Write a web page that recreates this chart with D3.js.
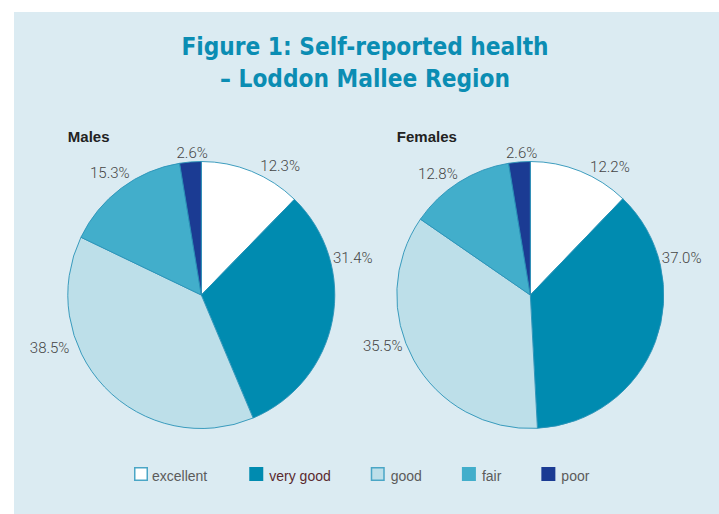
<!DOCTYPE html>
<head>
<meta charset="utf-8">
<title>Self-reported health - Loddon Mallee Region</title>
<script src="https://d3js.org/d3.v7.min.js"></script>
<style>
  body { margin: 0; background: #fff; }
  svg { display: block; }
</style>
</head>
<body>
<div id="container"></div>
<script>
//---------------------------- DATA -----------------------------//
const categories = ["excellent", "very good", "good", "fair", "poor"];
const males   = [12.3, 31.4, 38.5, 15.3, 2.6];
const females = [12.2, 37.0, 35.5, 12.8, 2.6];
const groups  = ["Males", "Females"];
const titleLines = ["Figure 1: Self-reported health", "\u2013 Loddon Mallee Region"];

//--------------------------- LAYOUT ----------------------------//
const W = 719, H = 514;
const colours = ["#ffffff", "#008bb0", "#bddfe9", "#42aecb", "#1b3b93"];
const r = 133.5, cy = 295;
// the original places some labels away from the slice middle (degrees)
const labelNudge = [[9.3, -24.4, 24.5, 0, 1], [9.8, -34.3, 10.3, -4.9, 1.2]];

const svg = d3.select("#container").append("svg")
    .attr("width", W)
    .attr("height", H);

svg.append("rect")
    .attr("x", 14).attr("y", 12)
    .attr("width", W - 14).attr("height", H - 12)
    .attr("fill", "#dbebf2");

// title
svg.selectAll(".title")
    .data(titleLines)
    .enter().append("text")
    .attr("class", "title")
    .attr("x", 365)
    .attr("y", (d, i) => 55 + i * 32)
    .attr("text-anchor", "middle")
    .style("font-family", "'DejaVu Sans Condensed', sans-serif")
    .style("font-weight", "bold")
    .style("font-size", "24.2px")
    .attr("fill", "#0b8db3")
    .text(d => d);

//---------------------------- PIES -----------------------------//
const xPos = d3.scalePoint().domain(groups).range([201.3, 530.3]);
const pie = d3.pie().sort(null).value(d => d);
const arc = d3.arc().innerRadius(0).outerRadius(r);

[males, females].forEach(function(values, gi) {
  const cx = xPos(groups[gi]);
  const g = svg.append("g").attr("transform", "translate(" + cx + "," + cy + ")");

  g.append("text")
      .attr("x", -r)
      .attr("y", -r - 19.5)
      .style("font-family", "'Liberation Sans', Arial, sans-serif")
      .style("font-weight", "bold")
      .style("font-size", "15px")
      .attr("fill", "#222")
      .text(groups[gi]);

  const arcs = pie(values);

  g.selectAll("path")
      .data(arcs)
      .enter().append("path")
      .attr("d", arc)
      .attr("fill", (d, i) => colours[i])
      .attr("stroke", "#2a93b8")
      .attr("stroke-width", 0.9);

  const labels = g.selectAll(".lbl")
      .data(arcs)
      .enter().append("text")
      .attr("class", "lbl")
      .attr("text-anchor", "middle")
      .attr("dy", "0.35em")
      .style("font-family", "Roboto, 'Liberation Sans', sans-serif")
      .style("font-weight", 300)
      .style("font-size", "15px")
      .attr("fill", "#454545")
      .text(d => d.data.toFixed(1) + "%");

  labels.each(function(d, i) {
    const hw = this.getComputedTextLength() / 2, hh = 7;
    const a = (d.startAngle + d.endAngle) / 2 + labelNudge[gi][i] * Math.PI / 180;
    const s = Math.sin(a), c = Math.cos(a);
    const gap = (gi === 0 && i === 2) ? 6 : 1.5;
    const dist = r + gap + Math.abs(s) * hw + Math.abs(c) * hh;
    d3.select(this).attr("x", s * dist).attr("y", -c * dist);
  });
});

//--------------------------- LEGEND ----------------------------//
const legend = svg.append("g").attr("transform", "translate(134,467)");
let lx = 0;
categories.forEach(function(cat, i) {
  const item = legend.append("g").attr("transform", "translate(" + lx + ",0)");
  const outlined = colours[i] === "#ffffff" || colours[i] === "#bddfe9";
  item.append("rect")
      .attr("x", outlined ? 0.75 : 0).attr("y", outlined ? 0.75 : 0)
      .attr("width", outlined ? 12.5 : 14).attr("height", outlined ? 12.5 : 14)
      .attr("fill", colours[i])
      .attr("stroke", outlined ? "#4aa6c6" : "none")
      .attr("stroke-width", 1.5);
  const t = item.append("text")
      .attr("x", i === 0 ? 18 : 20)
      .attr("y", 13.5)
      .style("font-family", "'Liberation Sans', Arial, sans-serif")
      .style("font-size", "14px")
      .attr("fill", cat === "very good" ? "#5a2a2e" : "#5b5b5b")
      .text(cat);
  lx += 20 + t.node().getComputedTextLength() + 40;
});
</script>
</body>
